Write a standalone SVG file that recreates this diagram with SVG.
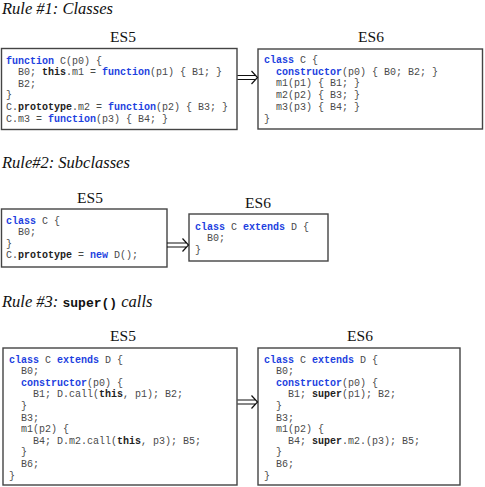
<svg xmlns="http://www.w3.org/2000/svg" width="485" height="487" viewBox="0 0 485 487">
<style>
.title{font-family:"Liberation Serif",serif;font-style:italic;font-size:16.5px;fill:#111}
.lbl{font-family:"Liberation Serif",serif;font-size:15.5px;fill:#111;text-anchor:middle}
.box{fill:#fff;stroke:#444;stroke-width:1.4}
.c{font-family:"Liberation Mono",monospace;font-size:10px;fill:#4a4a4a}
.k{fill:#1d3fe0;font-weight:bold}
.b{font-weight:bold;fill:#222}
.arr{fill:none;stroke:#111;stroke-width:1.2}
</style>
<rect width="485" height="487" fill="#fff"/>
<text class="title" x="2" y="14">Rule #1: Classes</text>
<text class="title" x="2" y="167.5">Rule#2: Subclasses</text>
<text class="title" x="2" y="306.5">Rule #3: <tspan font-family="Liberation Mono,monospace" font-style="normal" font-weight="bold" font-size="13">super()</tspan> calls</text>

<g id="r1-es5">
<text class="lbl" x="123" y="42">ES5</text>
<rect class="box" x="1.5" y="48.5" width="235.5" height="81"/>
<text class="c" xml:space="preserve"><tspan x="6" y="63.5"><tspan class="k">function</tspan> C(p0) {</tspan><tspan x="18" y="75.1">B0; <tspan class="b">this</tspan>.m1 = <tspan class="k">function</tspan>(p1) { B1; }</tspan><tspan x="18" y="86.7">B2;</tspan><tspan x="6" y="98.3">}</tspan><tspan x="6" y="109.9">C.<tspan class="b">prototype</tspan>.m2 = <tspan class="k">function</tspan>(p2) { B3; }</tspan><tspan x="6" y="121.5">C.m3 = <tspan class="k">function</tspan>(p3) { B4; }</tspan></text>
</g>
<g id="r1-es6">
<text class="lbl" x="371" y="42">ES6</text>
<rect class="box" x="258" y="49" width="224.5" height="80"/>
<text class="c" xml:space="preserve"><tspan x="264" y="62.8"><tspan class="k">class</tspan> C {</tspan><tspan x="276" y="74.6"><tspan class="k">constructor</tspan>(p0) { B0; B2; }</tspan><tspan x="276" y="86.4">m1(p1) { B1; }</tspan><tspan x="276" y="98.2">m2(p2) { B3; }</tspan><tspan x="276" y="110">m3(p3) { B4; }</tspan><tspan x="264" y="121.8">}</tspan></text>
</g>

<g id="r2-es5">
<text class="lbl" x="90" y="203">ES5</text>
<rect class="box" x="1.5" y="209" width="165.5" height="58"/>
<text class="c" xml:space="preserve"><tspan x="6" y="223.5"><tspan class="k">class</tspan> C {</tspan><tspan x="18" y="235.1">B0;</tspan><tspan x="6" y="246.7">}</tspan><tspan x="6" y="258.3">C.<tspan class="b">prototype</tspan> = <tspan class="k">new</tspan> D();</tspan></text>
</g>
<g id="r2-es6">
<text class="lbl" x="258" y="208">ES6</text>
<rect class="box" x="189" y="214" width="139" height="47"/>
<text class="c" xml:space="preserve"><tspan x="195" y="229.5"><tspan class="k">class</tspan> C <tspan class="k">extends</tspan> D {</tspan><tspan x="207" y="241.1">B0;</tspan><tspan x="195" y="252.7">}</tspan></text>
</g>

<g id="r3-es5">
<text class="lbl" x="123" y="341">ES5</text>
<rect class="box" x="3" y="348" width="234" height="137"/>
<text class="c" xml:space="preserve"><tspan x="9" y="362.5"><tspan class="k">class</tspan> C <tspan class="k">extends</tspan> D {</tspan><tspan x="21" y="374.1">B0;</tspan><tspan x="21" y="385.7"><tspan class="k">constructor</tspan>(p0) {</tspan><tspan x="33" y="397.3">B1; D.call(<tspan class="b">this</tspan>, p1); B2;</tspan><tspan x="21" y="408.9">}</tspan><tspan x="21" y="420.5">B3;</tspan><tspan x="21" y="432.1">m1(p2) {</tspan><tspan x="33" y="443.7">B4; D.m2.call(<tspan class="b">this</tspan>, p3); B5;</tspan><tspan x="21" y="455.3">}</tspan><tspan x="21" y="466.9">B6;</tspan><tspan x="9" y="478.5">}</tspan></text>
</g>
<g id="r3-es6">
<text class="lbl" x="360" y="341">ES6</text>
<rect class="box" x="258" y="348" width="202" height="137"/>
<text class="c" xml:space="preserve"><tspan x="264" y="362.5"><tspan class="k">class</tspan> C <tspan class="k">extends</tspan> D {</tspan><tspan x="276" y="374.1">B0;</tspan><tspan x="276" y="385.7"><tspan class="k">constructor</tspan>(p0) {</tspan><tspan x="288" y="397.3">B1; <tspan class="b">super</tspan>(p1); B2;</tspan><tspan x="276" y="408.9">}</tspan><tspan x="276" y="420.5">B3;</tspan><tspan x="276" y="432.1">m1(p2) {</tspan><tspan x="288" y="443.7">B4; <tspan class="b">super</tspan>.m2.(p3); B5;</tspan><tspan x="276" y="455.3">}</tspan><tspan x="276" y="466.9">B6;</tspan><tspan x="264" y="478.5">}</tspan></text>
</g>

<g id="connectors">
<path class="arr" d="M237.5 75.5H256M237.5 79.5H256M251.5 71L257.5 77.5L251.5 84"/>
<path class="arr" d="M167 243H187M167 247H187M182.5 238.5L188.5 245L182.5 251.5"/>
<path class="arr" d="M237.5 400H256M237.5 404H256M251.5 395.5L257.5 402L251.5 408.5"/>
</g>
</svg>
